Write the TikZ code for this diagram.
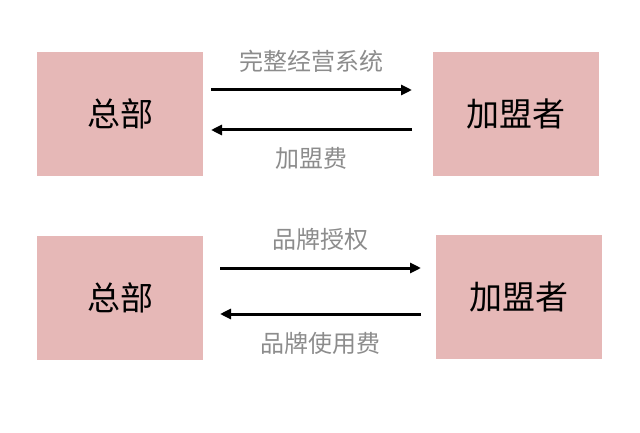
\documentclass[tikz,border=0pt]{standalone}
\usepackage{fontspec}
\newfontfamily\cjk{Noto Sans CJK SC}
\usetikzlibrary{arrows.meta}
\definecolor{boxpink}{HTML}{E6B8B7}
\definecolor{labelgray}{HTML}{8C8C8C}
\tikzset{party/.style = {fill=boxpink, minimum width=166pt, minimum height=124pt, inner sep=0, font=\cjk\fontsize{33}{33}\selectfont}}
\tikzset{flow/.style = {line width=3pt, -{Triangle[length=11pt,width=10pt]}}}
\tikzset{tag/.style = {text=labelgray, font=\cjk\fontsize{24}{24}\selectfont}}
\begin{document}
\begin{tikzpicture}[x=1pt,y=-1pt]
    \useasboundingbox (0,0) rectangle (640,433);
    \node[party] (hq1) at (120,114) {总部};
    \node[party] (fr1) at (516,114) {加盟者};
    \node[party] (hq2) at (120,298) {总部};
    \node[party] (fr2) at (519,297) {加盟者};
    
    % upper pair
    \coordinate (a1) at (211,90);  \coordinate (b1) at (412,90);
    \coordinate (a2) at (412,130); \coordinate (b2) at (211,130);
    \draw[flow] (a1) -- (b1) node[tag, midway, above=13pt] {完整经营系统};
    \draw[flow] (a2) -- (b2) node[tag, midway, below=13pt] {加盟费};
    
    % lower pair
    \coordinate (c1) at (220,268); \coordinate (d1) at (421,268);
    \coordinate (c2) at (421,314); \coordinate (d2) at (220,314);
    \draw[flow] (c1) -- (d1) node[tag, midway, above=13pt] {品牌授权};
    \draw[flow] (c2) -- (d2) node[tag, midway, below=13pt] {品牌使用费};
\end{tikzpicture}
\end{document}
